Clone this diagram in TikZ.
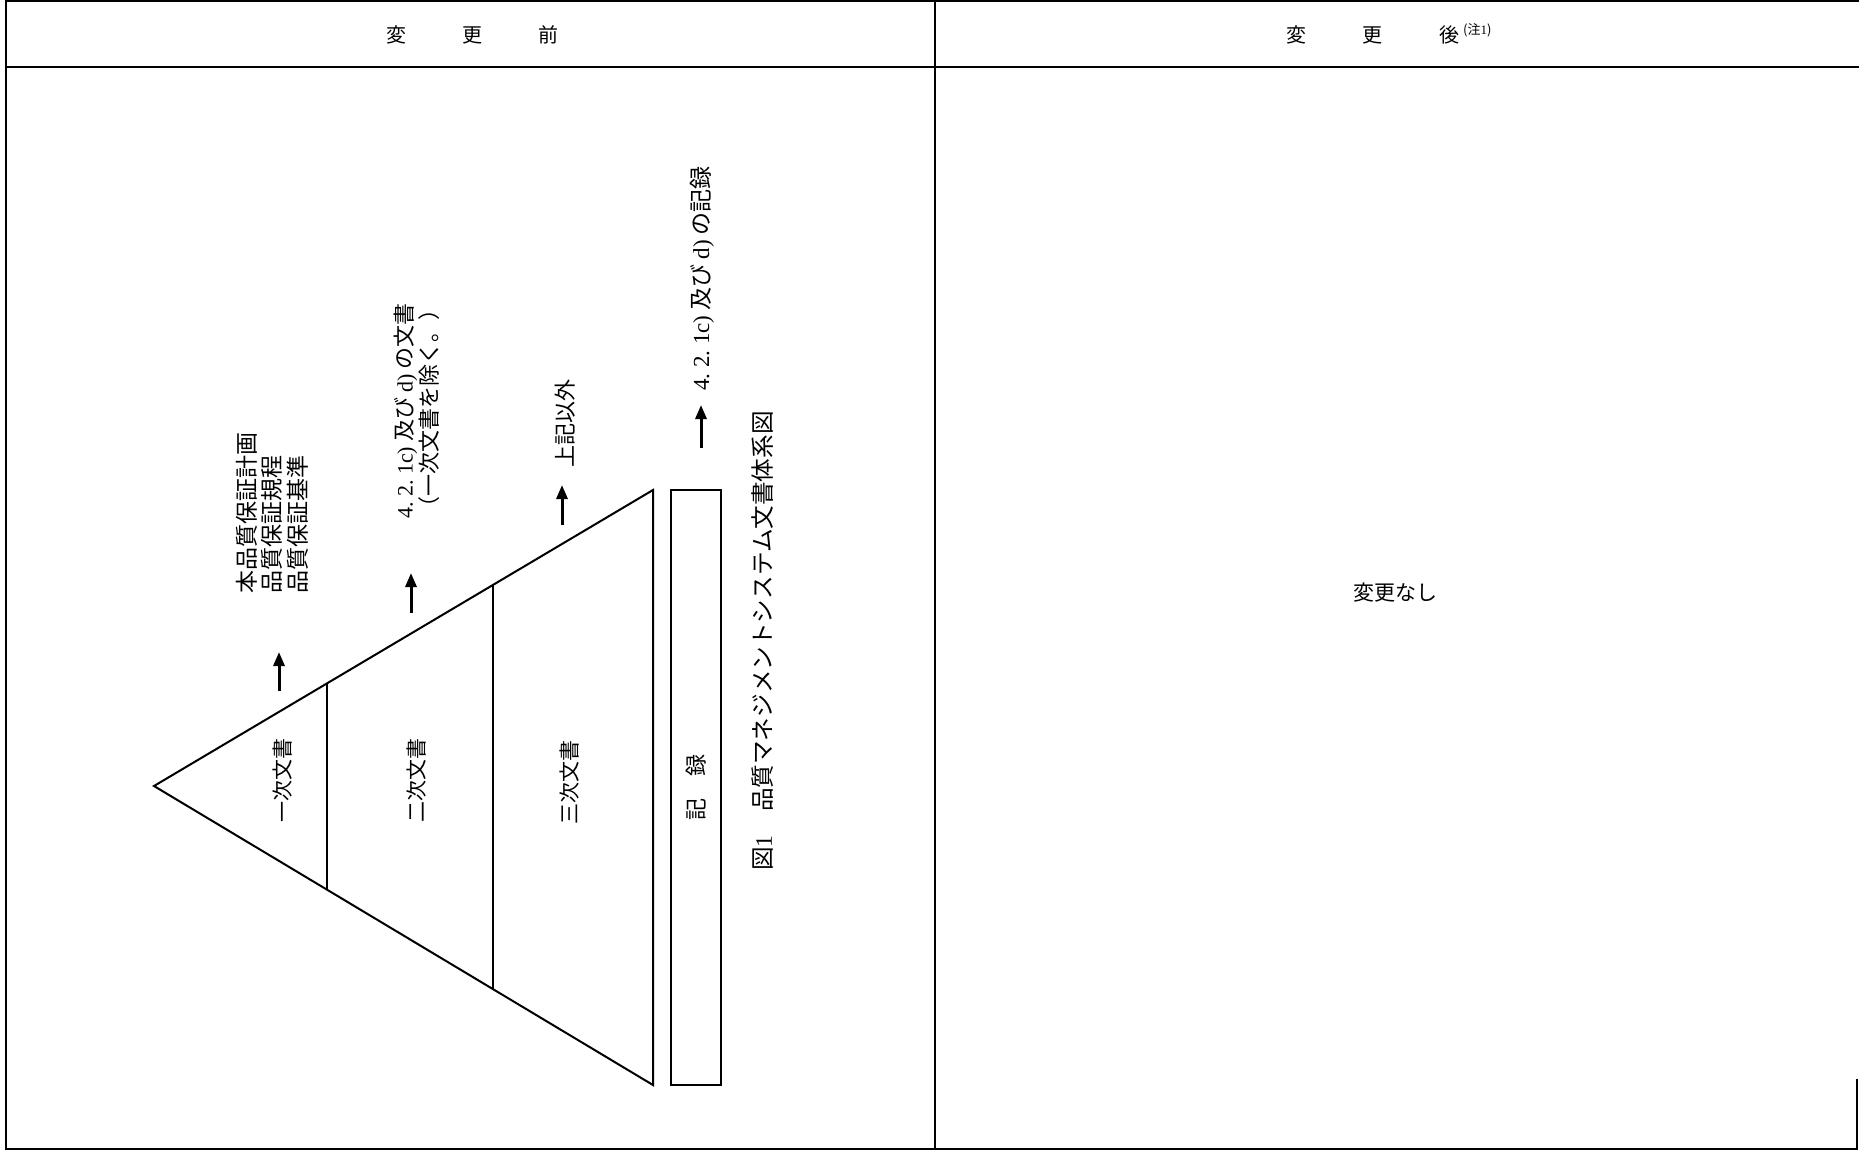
\documentclass[tikz,border=0pt]{standalone}
\usepackage{fontspec}
\setmainfont{Liberation Serif}
\newfontfamily\jp{Noto Sans CJK JP}
\usetikzlibrary{arrows.meta,calc}
\newcommand\lat[1]{{\rmfamily #1}}
\tikzset{
  frameline/.style={line width=2pt, line cap=rect},
  headline/.style={line width=2.6pt},
  pyr/.style={line width=2pt, line join=miter},
  upar/.style={line width=3pt, -{Triangle[width=11pt,length=14pt]}},
  vtext/.style={rotate=90, inner sep=0pt},
  lbl/.style={inner sep=0pt},
}
\begin{document}
\begin{tikzpicture}[x=1pt,y=-1pt]
\useasboundingbox[fill=white] (0,0) rectangle (1859,1151);
% frame
\coordinate (tl) at (6,1);
\coordinate (tm) at (935,1);
\coordinate (trr) at (1859,1);
\coordinate (hl) at (6,67);
\coordinate (hr) at (1859,67);
\coordinate (bl) at (6,1149);
\coordinate (bm) at (935,1149);
\coordinate (brr) at (1857,1149);
\coordinate (rs) at (1857,1080);
\draw[frameline] (trr) -- (tl) -- (bl) -- (brr) -- (rs);
\draw[frameline] (tm) -- (bm);
\draw[headline] (hl) -- (hr);
% headers
\node[lbl, anchor=base, font={\jp\fontsize{20}{24}\selectfont}] (h1) at (472,42) {変\hspace{56pt}更\hspace{56pt}前};
\node[lbl, anchor=base west, font={\jp\fontsize{20}{24}\selectfont}] (h2) at (1286,42) {変\hspace{56.5pt}更\hspace{56.5pt}後\hspace{4pt}\raisebox{8pt}{\fontsize{13}{14}\selectfont (注\lat{1})}};
% pyramid
\coordinate (apex) at (154,786);
\coordinate (ptr) at (653,490);
\coordinate (pbr) at (653,1085);
\draw[pyr] (ptr) -- (apex) -- (pbr) -- cycle;
\coordinate (d1t) at ($(apex)!0.3467!(ptr)$);
\coordinate (d1b) at ($(apex)!0.3467!(pbr)$);
\coordinate (d2t) at ($(apex)!0.6794!(ptr)$);
\coordinate (d2b) at ($(apex)!0.6794!(pbr)$);
\draw[pyr] (d1t) -- (d1b);
\draw[pyr] (d2t) -- (d2b);
% record box
\node[draw, line width=2.6pt, minimum width=50pt, minimum height=595pt, inner sep=0pt] (rec) at (696,787.5) {};
% labels inside
\node[vtext, font={\jp\fontsize{21}{24}\selectfont}] (l1) at (283,780) {一次文書};
\node[vtext, font={\jp\fontsize{21}{24}\selectfont}] (l2) at (417,780) {二次文書};
\node[vtext, font={\jp\fontsize{21}{24}\selectfont}] (l3) at (570,782) {三次文書};
\node[vtext, font={\jp\fontsize{22}{24}\selectfont}] (l4) at (rec.center) {記　録};
% arrows
\coordinate (a1s) at (279,691); \coordinate (a1e) at (279,652);
\coordinate (a2s) at (411,613); \coordinate (a2e) at (411,573);
\coordinate (a3s) at (562,525); \coordinate (a3e) at (562,485);
\coordinate (a4s) at (701,448); \coordinate (a4e) at (701,405);
\draw[upar] (a1s) -- (a1e);
\draw[upar] (a2s) -- (a2e);
\draw[upar] (a3s) -- (a3e);
\draw[upar] (a4s) -- (a4e);
% explanatory texts
\node[vtext, anchor=west, align=left, font={\jp\fontsize{23}{25.5}\selectfont}] (t1) at (272,594) {本品質保証計画\\品質保証規程\\品質保証基準};
\node[vtext, anchor=west, align=left, font={\jp\fontsize{22}{25}\selectfont}] (t2) at (417,519) {\lat{4.~2.~1c)}\hspace{5pt}及び\hspace{5pt}\lat{d)}\hspace{5pt}の文書\\（一次文書を除く。）};
\node[vtext, anchor=west, font={\jp\fontsize{22}{25}\selectfont}] (t3) at (565,468) {上記以外};
\node[vtext, anchor=west, font={\jp\fontsize{23}{25}\selectfont}] (t4) at (702,391) {\lat{4.~2.~1c)}\hspace{5pt}及び\hspace{5pt}\lat{d)}\hspace{5pt}の記録};
% caption
\node[vtext, anchor=west, font={\jp\fontsize{23.6}{25}\selectfont}] (cap) at (763,871) {図\lat{1}　品質マネジメントシステム文書体系図};
% right panel
\node[lbl, font={\jp\fontsize{21}{24}\selectfont}] (nc) at (1395,593) {変更なし};
\end{tikzpicture}
\end{document}
